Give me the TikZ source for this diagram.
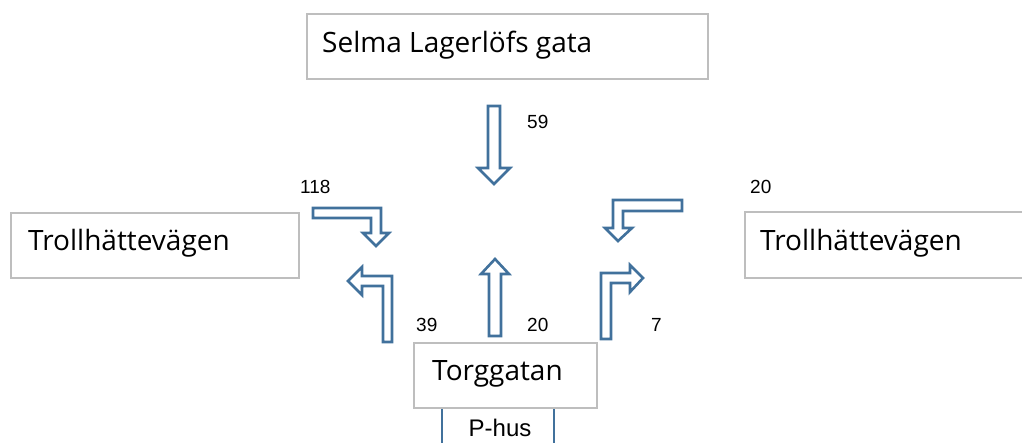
\documentclass[tikz,border=0pt]{standalone}
\usepackage{fontspec}
\setmainfont{Open Sans}
\newfontfamily\numfont{Liberation Sans}
\definecolor{arrowblue}{RGB}{65,113,156}
\definecolor{boxgray}{RGB}{190,190,190}
\begin{document}
\begin{tikzpicture}[x=1pt,y=-1pt,
  street/.style={draw=boxgray,line width=1.5pt,rectangle,anchor=north west,
    inner sep=0pt},
  streetname/.style={anchor=base west,inner sep=0pt,font=\fontsize{28}{34}\selectfont},
  count/.style={inner sep=0pt,anchor=base west,font=\numfont\fontsize{19}{22}\selectfont},
  blockarrow/.style={draw=arrowblue,line width=2.6pt,line join=miter,fill=white}]
\useasboundingbox (0,0) rectangle (1022,442);

% street boxes
\node[street,minimum width=401pt,minimum height=65pt] (selma) at (306,13) {};
\node[streetname] (selmalabel) at (322,52) {Selma Lagerlöfs gata};
\node[street,minimum width=288pt,minimum height=65pt] (west) at (10,212) {};
\node[streetname] (westlabel) at (28,250) {Trollhättevägen};
\node[street,minimum width=300pt,minimum height=66pt] (east) at (744,211) {};
\node[streetname] (eastlabel) at (760,250) {Trollhättevägen};
\node[draw=arrowblue,line width=2.4pt,rectangle,anchor=north west,
  minimum width=112pt,minimum height=50pt,inner sep=0pt] (phus) at (441,407) {};
\node[anchor=base,font=\numfont\fontsize{24}{28}\selectfont,inner sep=0pt]
  (phuslabel) at (500,436) {P-hus};
\node[street,minimum width=183pt,minimum height=65pt,fill=white] (torg) at (413,342) {};
\node[streetname] (torglabel) at (432,380) {Torggatan};

% turning counts
\node[count] (n59) at (527,128) {59};
\node[count] (n118) at (300,193) {118};
\node[count] (n20e) at (750,193) {20};
\node[count] (n39) at (416,331) {39};
\node[count] (n20s) at (527,331) {20};
\node[count] (n7) at (651,331) {7};

% hollow block arrows
\draw[blockarrow] (488,106) -- (500,106) -- (500,168) -- (510,168) -- (494,184)
  -- (478,168) -- (488,168) -- cycle;
\draw[blockarrow] (489,336) -- (489,274) -- (481,274) -- (495,259) -- (509,274)
  -- (501,274) -- (501,336) -- cycle;
\draw[blockarrow] (313,208) -- (381,208) -- (381,233) -- (389,233) -- (376,246)
  -- (363,233) -- (371,233) -- (371,218) -- (313,218) -- cycle;
\draw[blockarrow] (392,342) -- (392,276) -- (362,276) -- (362,267) -- (348,281)
  -- (362,295) -- (362,286) -- (383,286) -- (383,342) -- cycle;
\draw[blockarrow] (682,200) -- (682,211) -- (623,211) -- (623,228) -- (632,228)
  -- (618,241) -- (605,228) -- (613,228) -- (613,200) -- cycle;
\draw[blockarrow] (601,339) -- (601,273) -- (630,273) -- (630,265) -- (643,278)
  -- (630,292) -- (630,283) -- (611,283) -- (611,339) -- cycle;
\end{tikzpicture}
\end{document}
